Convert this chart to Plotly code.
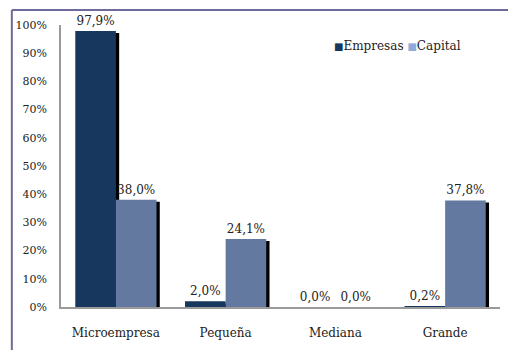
import plotly.graph_objects as go

categories = ["Microempresa", "Pequeña", "Mediana", "Grande"]
empresas = [97.9, 2.0, 0.0, 0.2]
capital = [38.0, 24.1, 0.0, 37.8]
y_ticks = [0, 10, 20, 30, 40, 50, 60, 70, 80, 90, 100]
y_tick_labels = [f"{v}%" for v in y_ticks]
series_names = ["Empresas", "Capital"]

FONT = "DejaVu Serif"
DARK = "#17375e"
SLATE = "#64799f"
LIGHT = "#8ea9db"
BAR_W = 0.37
SHADOW_DX = 0.03

fig = go.Figure()

# drop shadows behind each bar
for vals, off in ((empresas, -BAR_W), (capital, 0.0)):
    fig.add_trace(go.Bar(
        x=categories, y=[v - 0.7 if v > 1 else 0 for v in vals],
        offset=off + SHADOW_DX, width=BAR_W,
        marker=dict(color="black", line=dict(width=0)),
        showlegend=False, hoverinfo="skip",
    ))

fig.add_trace(go.Bar(
    x=categories, y=empresas, name=series_names[0],
    offset=-BAR_W, width=BAR_W,
    marker=dict(color=DARK, line=dict(width=0)),
    texttemplate="%{y:.1f}%", textposition="outside",
    textfont=dict(family=FONT, size=12, color="#222222"),
    cliponaxis=False, showlegend=False,
))
fig.add_trace(go.Bar(
    x=categories, y=capital, name=series_names[1],
    offset=0.0, width=BAR_W,
    marker=dict(color=SLATE, line=dict(width=0)),
    texttemplate="%{y:.1f}%", textposition="outside",
    textfont=dict(family=FONT, size=12, color="#222222"),
    cliponaxis=False, showlegend=False,
))

# compact legend written as a single line of text
legend_text = (
    f"<span style='color:{DARK};font-size:10px'>■</span>{series_names[0]} "
    f"<span style='color:{LIGHT};font-size:10px'>■</span>{series_names[1]}"
)
fig.add_annotation(
    text=legend_text, xref="paper", yref="paper",
    x=0.915, y=0.926, xanchor="right", yanchor="middle",
    showarrow=False, font=dict(family=FONT, size=12, color="#222222"),
)

frame = "#6d6b9c"
fig.add_shape(type="line", xref="paper", yref="paper",
              x0=-0.112, x1=1.05, y0=1.053, y1=1.053,
              line=dict(color=frame, width=2))
fig.add_shape(type="line", xref="paper", yref="paper",
              x0=-0.112, x1=-0.112, y0=1.053, y1=-0.2,
              line=dict(color=frame, width=2))

fig.update_layout(
    width=508, height=350,
    margin=dict(l=61, r=8, t=25, b=43, autoexpand=False),
    barmode="overlay",
    separators=",.",
    plot_bgcolor="white", paper_bgcolor="white",
    font=dict(family=FONT, size=12, color="#222222"),
    showlegend=False,
)
fig.update_xaxes(
    showline=True, linecolor="#9a9a9a", linewidth=1.5,
    ticks="", showgrid=False, ticklabelstandoff=14,
    tickfont=dict(family=FONT, size=12),
)
fig.update_yaxes(
    range=[0, 100], tickmode="array", tickvals=y_ticks, ticktext=y_tick_labels,
    showline=True, linecolor="#9a9a9a", linewidth=1.5,
    ticks="", showgrid=False, zeroline=False, ticklabelstandoff=10,
    tickfont=dict(family=FONT, size=11),
)

fig.write_html("out.html")
